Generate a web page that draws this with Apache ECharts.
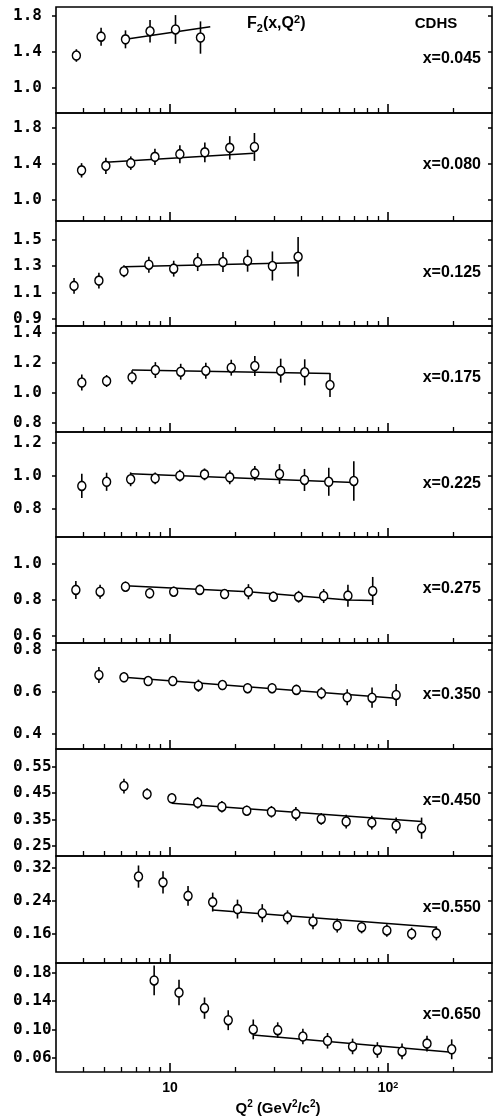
<!DOCTYPE html>
<html>
<head>
<meta charset="utf-8">
<script src="https://cdn.jsdelivr.net/npm/echarts@6/dist/echarts.min.js"></script>
<style>
  html, body { margin: 0; padding: 0; background: #fff; }
  #newChart { width: 497px; height: 1120px; }
</style>
</head>
<body>
<div id="newChart"></div>
<script>
// one panel per x bin, top to bottom
const xBins = ['0.045', '0.080', '0.125', '0.175', '0.225', '0.275', '0.350', '0.450', '0.550', '0.650'];

// Q^2 (GeV^2/c^2), F2 value, error, fitted line
const q045 = [3.72, 4.83, 6.25, 8.1, 10.6, 13.8];
const f045 = [1.36, 1.57, 1.54, 1.63, 1.65, 1.56];
const e045 = [0.07, 0.1, 0.1, 0.125, 0.16, 0.18];
const fit045 = [[6.25, 1.54], [15.3, 1.68]];

const q080 = [3.93, 5.08, 6.61, 8.53, 11.1, 14.45, 18.8, 24.4];
const f080 = [1.33, 1.38, 1.41, 1.48, 1.51, 1.53, 1.58, 1.59];
const e080 = [0.08, 0.09, 0.075, 0.09, 0.1, 0.11, 0.13, 0.155];
const fit080 = [[5.08, 1.42], [24.2, 1.52]];

const q125 = [3.63, 4.72, 6.15, 8.0, 10.4, 13.4, 17.5, 22.7, 29.5, 38.7];
const f125 = [1.15, 1.19, 1.26, 1.31, 1.28, 1.33, 1.33, 1.34, 1.30, 1.37];
const e125 = [0.06, 0.06, 0.045, 0.06, 0.06, 0.068, 0.075, 0.083, 0.11, 0.15];
const fit125 = [[6.15, 1.295], [38.7, 1.325]];

const q175 = [3.94, 5.12, 6.7, 8.57, 11.2, 14.6, 19.1, 24.5, 32.2, 41.5, 54.2];
const f175 = [1.07, 1.08, 1.105, 1.153, 1.142, 1.149, 1.169, 1.18, 1.149, 1.138, 1.053];
const e175 = [0.053, 0.04, 0.047, 0.053, 0.053, 0.053, 0.053, 0.067, 0.08, 0.087, 0.08];
const fit175 = [[6.7, 1.153], [54.2, 1.131]];

const q225 = [3.94, 5.12, 6.6, 8.55, 11.1, 14.4, 18.8, 24.5, 31.8, 41.4, 53.5, 69.7];
const f225 = [0.94, 0.965, 0.98, 0.986, 1.002, 1.01, 0.992, 1.016, 1.012, 0.976, 0.965, 0.97];
const e225 = [0.073, 0.055, 0.042, 0.036, 0.036, 0.036, 0.042, 0.045, 0.06, 0.067, 0.085, 0.12];
const fit225 = [[6.6, 1.014], [69.7, 0.96]];

const q275 = [3.7, 4.78, 6.25, 8.07, 10.4, 13.7, 17.8, 22.9, 29.8, 38.9, 50.7, 65.5, 85.1];
const f275 = [0.856, 0.846, 0.874, 0.837, 0.846, 0.856, 0.833, 0.846, 0.818, 0.818, 0.822, 0.824, 0.85];
const e275 = [0.05, 0.039, 0.028, 0.028, 0.028, 0.028, 0.028, 0.042, 0.028, 0.033, 0.039, 0.061, 0.078];
const fit275 = [[6.25, 0.879], [22.9, 0.846], [65.5, 0.80], [85.1, 0.797]];

const q350 = [4.72, 6.15, 7.94, 10.3, 13.5, 17.4, 22.7, 29.4, 38.0, 49.5, 65, 84.5, 109];
const f350 = [0.681, 0.67, 0.652, 0.652, 0.63, 0.633, 0.618, 0.618, 0.61, 0.594, 0.575, 0.573, 0.586];
const e350 = [0.038, 0.024, 0.019, 0.019, 0.029, 0.024, 0.024, 0.024, 0.024, 0.029, 0.038, 0.048, 0.052];
const fit350 = [[6.15, 0.67], [109, 0.57]];

const q450 = [6.15, 7.85, 10.2, 13.4, 17.3, 22.5, 29.2, 37.8, 49.4, 64.3, 84.3, 109, 142.6];
const f450 = [0.476, 0.446, 0.43, 0.413, 0.398, 0.383, 0.379, 0.371, 0.352, 0.342, 0.338, 0.327, 0.317];
const e450 = [0.028, 0.022, 0.019, 0.022, 0.022, 0.019, 0.022, 0.026, 0.022, 0.026, 0.026, 0.03, 0.04];
const fit450 = [[10.2, 0.411], [142.6, 0.342]];

const q550 = [7.17, 9.29, 12.1, 15.7, 20.4, 26.5, 34.6, 45.3, 58.5, 75.7, 98.8, 128.4, 166.7];
const f550 = [0.298, 0.284, 0.251, 0.236, 0.219, 0.209, 0.199, 0.189, 0.179, 0.175, 0.167, 0.159, 0.16];
const e550 = [0.027, 0.027, 0.024, 0.023, 0.023, 0.022, 0.017, 0.019, 0.017, 0.015, 0.015, 0.015, 0.017];
const fit550 = [[15.7, 0.217], [166.7, 0.175]];

const q650 = [8.46, 11.0, 14.4, 18.5, 24.1, 31.2, 40.7, 52.8, 68.8, 89.4, 116, 151, 196];
const f650 = [0.169, 0.152, 0.13, 0.113, 0.1, 0.099, 0.09, 0.084, 0.076, 0.071, 0.069, 0.08, 0.072];
const e650 = [0.021, 0.018, 0.015, 0.014, 0.014, 0.011, 0.011, 0.011, 0.011, 0.011, 0.011, 0.011, 0.014];
const fit650 = [[24.1, 0.092], [196, 0.068]];

// axis ranges and tick labels
const yMin = [0.72, 0.767, 0.847, 0.74, 0.63, 0.561, 0.329, 0.212, 0.088, 0.040];
const yMax = [1.9, 1.967, 1.64, 1.447, 1.267, 1.15, 0.833, 0.616, 0.348, 0.1936];
const yTickLabels = [
  ['1.0', '1.4', '1.8'],
  ['1.0', '1.4', '1.8'],
  ['0.9', '1.1', '1.3', '1.5'],
  ['0.8', '1.0', '1.2', '1.4'],
  ['0.8', '1.0', '1.2'],
  ['0.6', '0.8', '1.0'],
  ['0.4', '0.6', '0.8'],
  ['0.25', '0.35', '0.45', '0.55'],
  ['0.16', '0.24', '0.32'],
  ['0.06', '0.10', '0.14', '0.18']
];
const xMinorTicks = [4, 5, 6, 7, 8, 9, 20, 30, 40, 50, 60, 70, 80, 90, 200];
const xMajorTicks = [10, 100];

const panels = [
  [q045, f045, e045, fit045], [q080, f080, e080, fit080], [q125, f125, e125, fit125],
  [q175, f175, e175, fit175], [q225, f225, e225, fit225], [q275, f275, e275, fit275],
  [q350, f350, e350, fit350], [q450, f450, e450, fit450], [q550, f550, e550, fit550],
  [q650, f650, e650, fit650]
];

// layout (px)
const panelEdges = [7, 113, 221, 326, 432, 537, 643, 749, 856, 963, 1072];
const sansFont = 'Liberation Sans';

function errorBar(params, api) {
  let x = api.value(0), y = api.value(1), e = api.value(2);
  let p1 = api.coord([x, y + e]);
  let p2 = api.coord([x, y - e]);
  return {
    type: 'line',
    shape: {x1: p1[0], y1: p1[1], x2: p2[0], y2: p2[1]},
    style: {stroke: '#000', lineWidth: 1.6}
  };
}

let grids = [], xAxes = [], yAxes = [], series = [], graphics = [];

for (let i = 0; i < panels.length; i++) {
  let top = panelEdges[i];
  let h = panelEdges[i + 1] - top;
  let last = i === panels.length - 1;
  let ticks = yTickLabels[i].map(Number);
  let [q, f, e, fit] = panels[i];

  grids.push({
    left: 56, right: 5, top: top, height: h,
    show: true, borderColor: '#000', borderWidth: 1.6, backgroundColor: 'transparent'
  });

  // small log ticks
  xAxes.push({
    gridIndex: i, type: 'log', min: 3, max: 300, position: 'bottom',
    axisLine: {show: false}, splitLine: {show: false},
    axisTick: {show: true, inside: true, length: 5, customValues: xMinorTicks,
      lineStyle: {color: '#000', width: 1.3}},
    axisLabel: {show: false}
  });
  // decade ticks (labels only on the bottom panel)
  xAxes.push({
    gridIndex: i, type: 'log', min: 3, max: 300, position: 'bottom',
    axisLine: {show: false}, splitLine: {show: false},
    axisTick: {show: true, inside: true, length: 9, customValues: xMajorTicks,
      lineStyle: {color: '#000', width: 1.6}},
    axisLabel: {
      show: last, customValues: xMajorTicks, margin: 9,
      color: '#000', fontFamily: sansFont, fontWeight: 'bold', fontSize: 14,
      formatter: v => v > 50 ? '10{sup|2}' : '10',
      rich: {sup: {fontSize: 9, fontWeight: 'bold', fontFamily: sansFont, color: '#000',
        verticalAlign: 'top', lineHeight: 9}}
    }
  });

  yAxes.push({
    gridIndex: i, type: 'value', min: yMin[i], max: yMax[i], position: 'left',
    axisLine: {show: false}, splitLine: {show: false},
    axisTick: {show: true, inside: false, length: 4, customValues: ticks,
      lineStyle: {color: '#000', width: 1.5}},
    axisLabel: {
      customValues: ticks, margin: 43, align: 'left',
      color: '#000', fontFamily: 'DejaVu Sans Mono', fontWeight: 'bold', fontSize: 16,
      formatter: v => yTickLabels[i].find(s => Math.abs(Number(s) - v) < 1e-6) || ''
    }
  });
  yAxes.push({
    gridIndex: i, type: 'value', min: yMin[i], max: yMax[i], position: 'right',
    axisLine: {show: false}, splitLine: {show: false},
    axisTick: {show: true, inside: true, length: 4, customValues: ticks,
      lineStyle: {color: '#000', width: 1.5}},
    axisLabel: {show: false}
  });

  series.push({
    type: 'custom', xAxisIndex: 2 * i, yAxisIndex: 2 * i,
    data: q.map((v, k) => [v, f[k], e[k]]),
    encode: {x: 0, y: 1},
    renderItem: errorBar, z: 2, silent: true
  });
  series.push({
    type: 'line', xAxisIndex: 2 * i, yAxisIndex: 2 * i,
    data: fit, symbol: 'none', lineStyle: {color: '#000', width: 1.5}, z: 3, silent: true
  });
  series.push({
    type: 'scatter', xAxisIndex: 2 * i, yAxisIndex: 2 * i,
    data: q.map((v, k) => [v, f[k]]),
    symbol: 'circle', symbolSize: [8, 9],
    itemStyle: {color: '#fff', borderColor: '#000', borderWidth: 1.5, opacity: 1},
    z: 4, silent: true
  });

  graphics.push({
    type: 'text', x: 481, y: top + 52,
    style: {text: 'x=' + xBins[i], align: 'right', verticalAlign: 'middle',
      fontFamily: sansFont, fontWeight: 'bold', fontSize: 16, fill: '#000'}
  });
}

graphics.push({
  type: 'text', x: 247, y: 24,
  style: {
    text: 'F{sub|2}(x,Q{sup|2})', align: 'left', verticalAlign: 'middle',
    fontFamily: sansFont, fontWeight: 'bold', fontSize: 16, lineHeight: 20, fill: '#000',
    rich: {
      sub: {fontFamily: sansFont, fontWeight: 'bold', fontSize: 11, lineHeight: 10, verticalAlign: 'bottom', fill: '#000'},
      sup: {fontFamily: sansFont, fontWeight: 'bold', fontSize: 11, lineHeight: 10, verticalAlign: 'top', fill: '#000'}
    }
  }
});
graphics.push({
  type: 'text', x: 436, y: 24,
  style: {text: 'CDHS', align: 'center', verticalAlign: 'middle',
    fontFamily: sansFont, fontWeight: 'bold', fontSize: 15, fill: '#000'}
});
graphics.push({
  type: 'text', x: 278, y: 1109,
  style: {
    text: 'Q{sup|2} (GeV{sup|2}/c{sup|2})', align: 'center', verticalAlign: 'middle',
    fontFamily: sansFont, fontWeight: 'bold', fontSize: 15, lineHeight: 20, fill: '#000',
    rich: {
      sup: {fontFamily: sansFont, fontWeight: 'bold', fontSize: 10, lineHeight: 10, verticalAlign: 'top', fill: '#000'}
    }
  }
});

let myChart = echarts.init(document.getElementById('newChart'));
myChart.setOption({
  animation: false,
  backgroundColor: '#fff',
  grid: grids,
  xAxis: xAxes,
  yAxis: yAxes,
  series: series,
  graphic: graphics
});
</script>
</body>
</html>
